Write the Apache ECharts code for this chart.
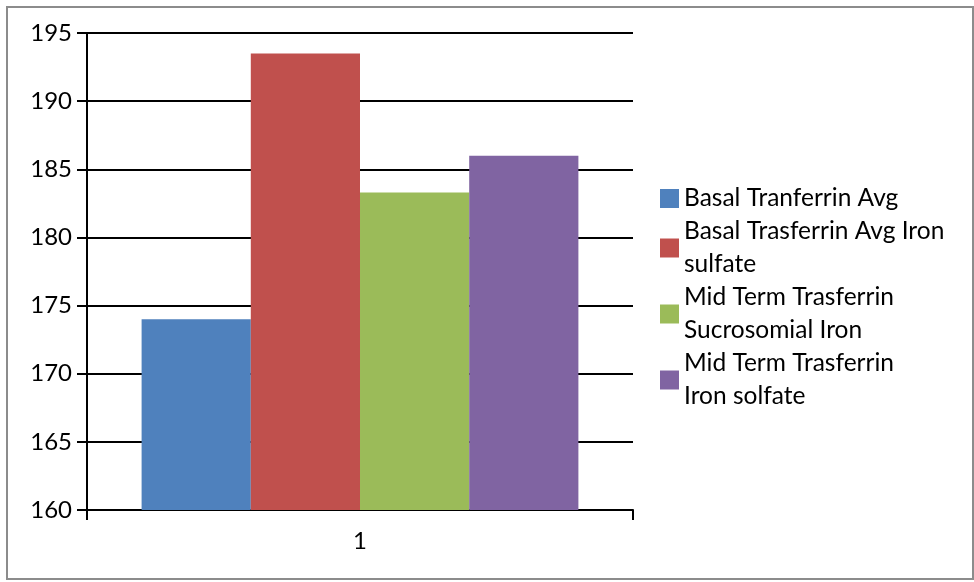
<!DOCTYPE html>
<html>
<head>
<meta charset="utf-8">
<script src="https://cdn.jsdelivr.net/npm/echarts@6/dist/echarts.min.js"></script>
<style>
  html, body { margin: 0; padding: 0; background: #fff; }
  #chart { width: 974px; height: 582px; }
</style>
</head>
<body>
<div id="chart"></div>
<script>
// Transferrin averages, single category
const categories = ['1'];
const seriesNames = [
  'Basal Tranferrin Avg',
  'Basal Trasferrin Avg Iron\nsulfate',
  'Mid Term Trasferrin\nSucrosomial Iron',
  'Mid Term Trasferrin\nIron solfate'
];
const seriesValues = [
  [174.0],
  [193.5],
  [183.3],
  [186.0]
];
const seriesColors = ['#4F81BD', '#C0504D', '#9BBB59', '#8064A2'];
const yMin = 160, yMax = 195, yStep = 5;

const fontFamily = 'Lato, "Open Sans", sans-serif';

const chart = echarts.init(document.getElementById('chart'), null, { renderer: 'canvas' });

const series = seriesNames.map((name, i) => ({
  name: name,
  type: 'bar',
  data: seriesValues[i],
  barGap: '0%',
  barCategoryGap: '20%',
  itemStyle: { color: seriesColors[i] },
  emphasis: { disabled: true }
}));

chart.setOption({
  animation: false,
  backgroundColor: '#ffffff',
  graphic: [{
    type: 'rect',
    shape: { x: 7, y: 7, width: 966, height: 572 },
    style: { fill: 'none', stroke: '#8c8c8c', lineWidth: 2 },
    z: -1
  }],
  grid: { left: 87, right: 341, top: 33, bottom: 72, containLabel: false },
  xAxis: {
    type: 'category',
    data: categories,
    axisLine: { lineStyle: { color: '#000', width: 2 } },
    axisTick: { show: true, length: 10, alignWithLabel: false, lineStyle: { color: '#000', width: 2 } },
    axisLabel: { color: '#000', fontSize: 24, fontFamily: fontFamily, margin: 19 },
    splitLine: { show: false }
  },
  yAxis: {
    type: 'value',
    min: yMin,
    max: yMax,
    interval: yStep,
    axisLine: { show: true, lineStyle: { color: '#000', width: 2 } },
    axisTick: { show: true, length: 10, lineStyle: { color: '#000', width: 2 } },
    axisLabel: { color: '#000', fontSize: 24, fontFamily: fontFamily, margin: 15 },
    splitLine: { show: true, lineStyle: { color: '#000', width: 2 } }
  },
  legend: {
    orient: 'vertical',
    left: 660,
    top: 182,
    padding: 0,
    icon: 'rect',
    itemWidth: 19,
    itemHeight: 19,
    itemGap: 0,
    textStyle: { color: '#000', fontSize: 24.5, fontFamily: fontFamily, lineHeight: 33, padding: [0, 0, 0, 0] },
    data: seriesNames
  },
  series: series
});
</script>
</body>
</html>
